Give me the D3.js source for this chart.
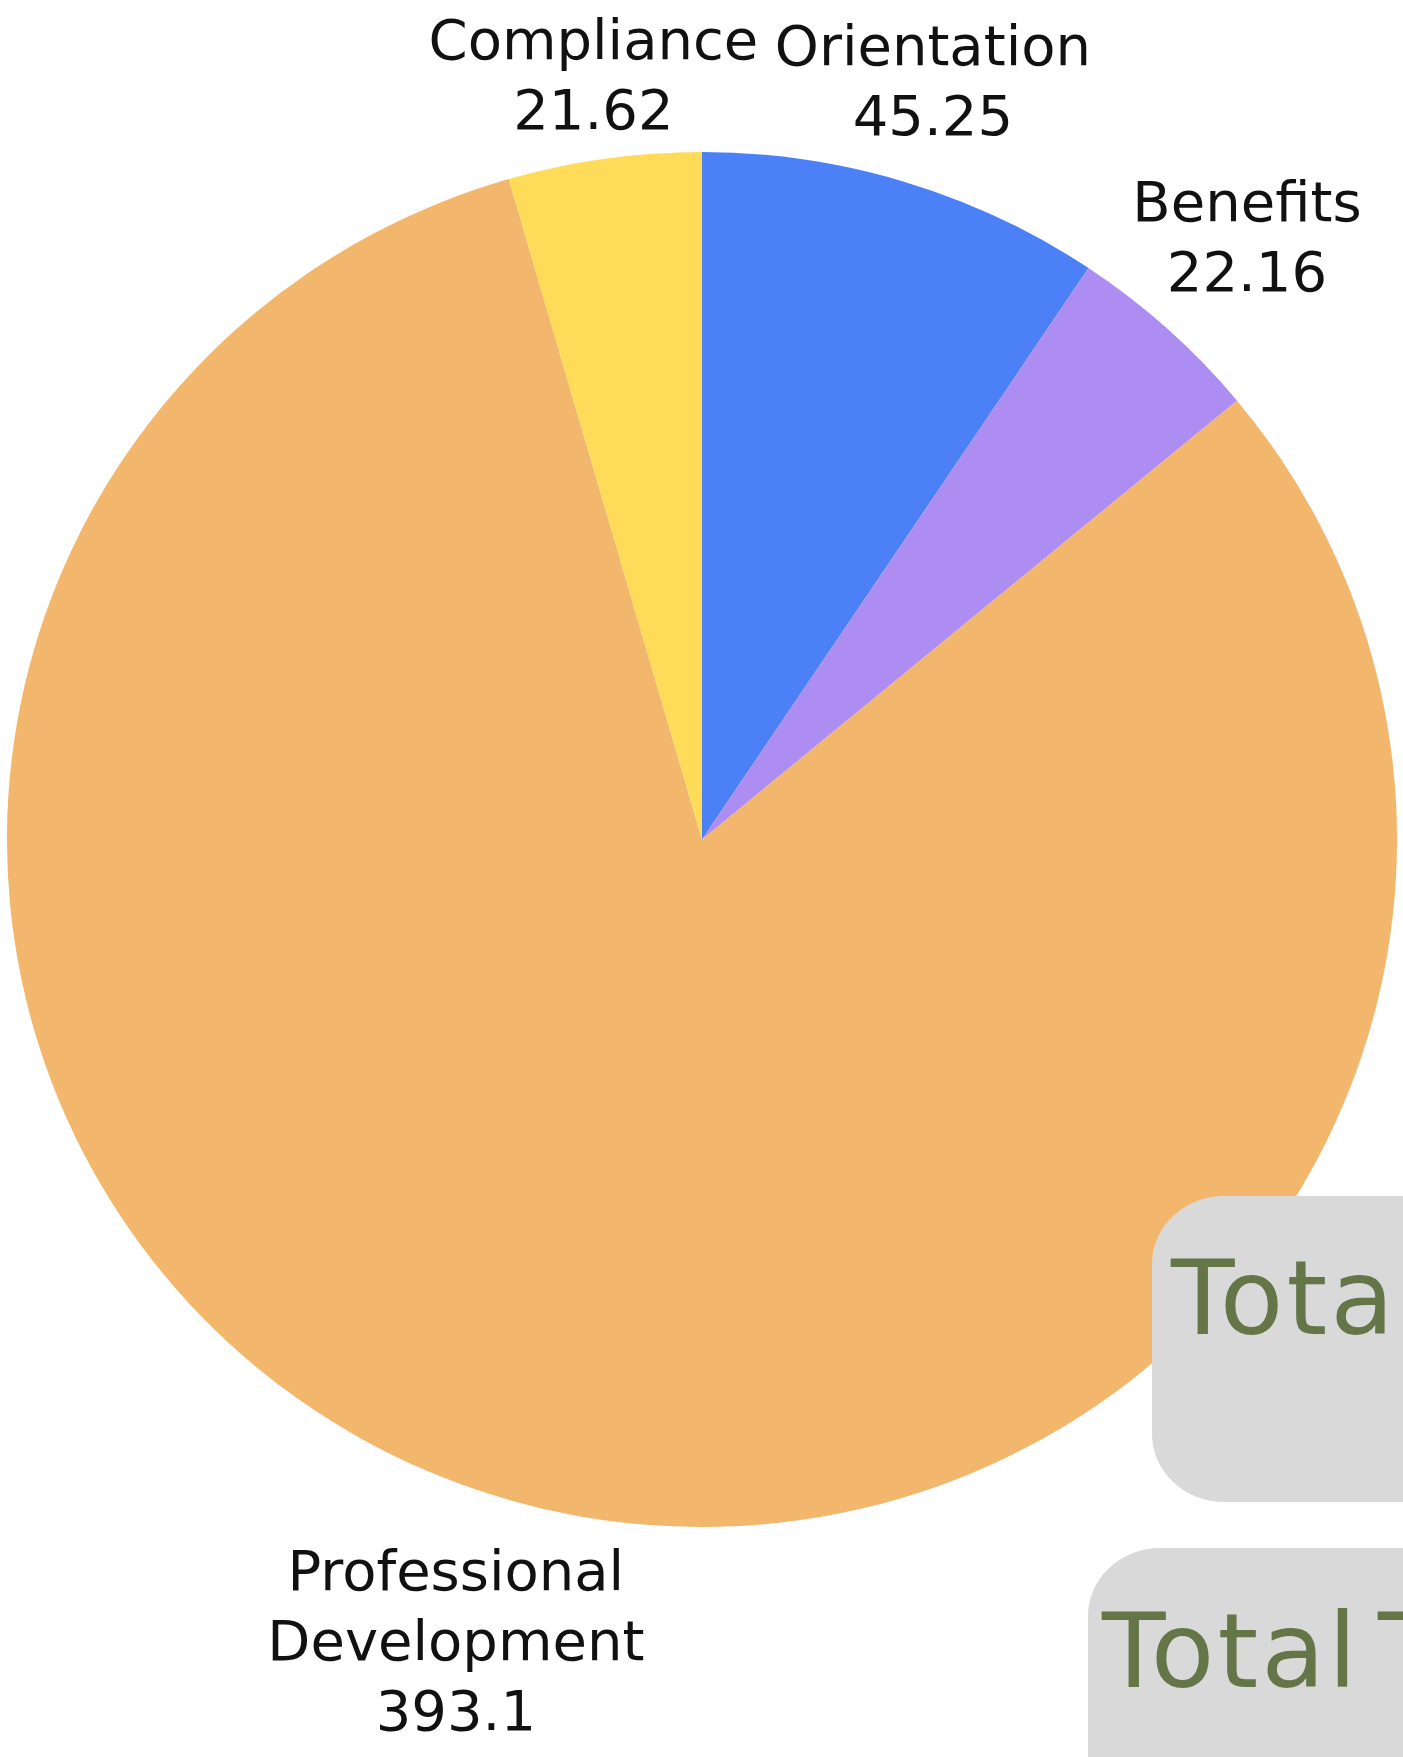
<!DOCTYPE html>
<html>
<head>
<meta charset="utf-8">
<script src="https://cdn.jsdelivr.net/npm/d3@7"></script>
<style>
  html, body { margin: 0; padding: 0; background: #fff; overflow: hidden; }
  svg { display: block; }
</style>
</head>
<body>
<svg id="chart"></svg>
<script>
// ---- data ----
const categories = ["Orientation", "Benefits", "Professional Development", "Compliance"];
const hours = [45.25, 22.16, 393.1, 21.62];
const labelLines = [["Orientation"], ["Benefits"], ["Professional", "Development"], ["Compliance"]];
const sliceColors = ["#4b80f6", "#ae8df3", "#f2b76d", "#fedc5a"];
const cardTitles = ["Total Hours", "Total Trainings"];

const W = 1403, H = 1757;
const cx = 702, cy = 839.5, r = 687.5;

const svg = d3.select("#chart").attr("width", W).attr("height", H);

const data = categories.map((c, i) => ({name: c, value: hours[i], lines: labelLines[i], color: sliceColors[i]}));

//------------PIE-------------------------------------------
const pie = d3.pie().sort(null).value(d => d.value);
const arc = d3.arc().innerRadius(0).outerRadius(r);
const arcs = pie(data);

const pieG = svg.append("g")
    .attr("transform", `translate(${cx},${cy}) scale(1.011,1)`);

pieG.selectAll("path")
  .data(arcs)
  .enter().append("path")
    .attr("d", arc)
    .attr("fill", d => d.data.color);

//------------LABELS----------------------------------------
const fs = 56, lh = 70, capH = fs * 0.73, pad = 8;

const labelG = svg.append("g").attr("transform", `translate(${cx},${cy})`);

arcs.forEach(a => {
  const lines = a.data.lines.concat([String(a.data.value)]);
  const t = labelG.append("text")
      .attr("text-anchor", "middle")
      .attr("font-family", "'DejaVu Sans', sans-serif")
      .attr("font-size", fs)
      .attr("fill", "#111");
  lines.forEach((l, i) => {
    t.append("tspan").attr("x", 0).attr("y", i * lh).text(l);
  });
  let w = 0;
  t.selectAll("tspan").each(function() { w = Math.max(w, this.getComputedTextLength()); });
  const h = capH + (lines.length - 1) * lh;
  const mid = (a.startAngle + a.endAngle) / 2;
  const s = Math.sin(mid), c = -Math.cos(mid);
  const ext = Math.abs(s) * w / 2 + Math.abs(c) * h / 2;
  const d = r + pad + ext;
  const bx = s * d, by = c * d;
  // shift so the visual block centre sits on (bx, by)
  const offY = ((lines.length - 1) * lh - capH) / 2;
  t.attr("transform", `translate(${bx},${by - offY})`);
});

//------------CARDS-----------------------------------------
const cards = [
  {x: 1152, y: 1196, w: 420, h: 306, tx: 19, ty: 138},
  {x: 1088, y: 1548, w: 480, h: 320, tx: 14, ty: 139}
];

const cardG = svg.selectAll("g.card")
  .data(cards)
  .enter().append("g")
    .attr("class", "card")
    .attr("transform", d => `translate(${d.x},${d.y})`);

cardG.append("rect")
    .attr("width", d => d.w)
    .attr("height", d => d.h)
    .attr("rx", 72)
    .attr("ry", 68)
    .attr("fill", "#d9d9d9");

cardG.append("text")
    .attr("x", d => d.tx)
    .attr("y", d => d.ty)
    .attr("font-family", "'DejaVu Sans', sans-serif")
    .attr("font-size", 104)
    .attr("letter-spacing", 3)
    .attr("word-spacing", -18)
    .attr("fill", "#647548")
    .text((d, i) => cardTitles[i]);
</script>
</body>
</html>
